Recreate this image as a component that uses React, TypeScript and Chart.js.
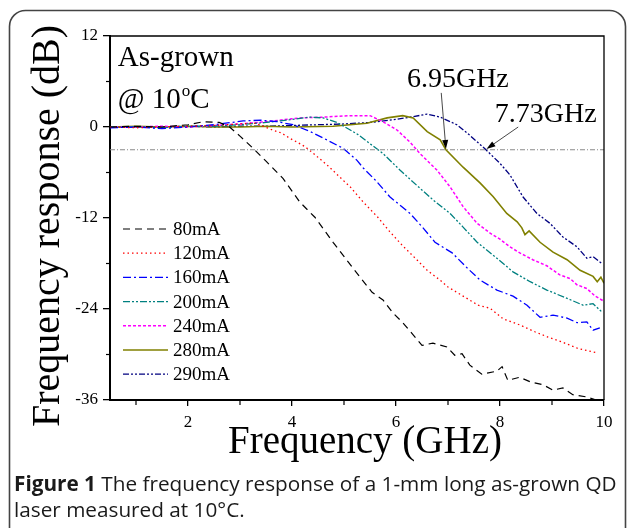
import React, { useEffect, useRef } from "react";
import { Chart, registerables } from "chart.js";

Chart.register(...registerables);

const W = 627;
const H = 528;
const SERIF = "'Liberation Serif', 'Times New Roman', serif";
const SANS = "'Open Sans', 'Noto Sans', sans-serif";

// ---- axis ticks ----
const xTickValues = [2, 4, 6, 8, 10];
const xMinorTicks = [1, 3, 5, 7, 9];
const yTickValues = [-36, -24, -12, 0, 12];
const yMinorTicks = [-30, -18, -6, 6];

// ---- series (frequency in GHz, response in dB) ----
const f80 = [0.5, 1.0, 1.5, 2.0, 2.3, 2.6, 2.8, 3.0, 3.25, 3.5, 3.83, 4.15, 4.44, 4.79, 5.17, 5.54, 5.75, 5.94, 6.13, 6.33, 6.5, 6.71, 6.98, 7.13, 7.27, 7.42, 7.65, 7.94, 8.04, 8.15, 8.38, 8.58, 8.83, 9.02, 9.21, 9.4, 9.67, 9.85];
const db80 = [0, 0.1, 0, 0.3, 0.7, 0.6, 0, -1.2, -2.8, -4.5, -6.8, -9.9, -11.9, -15.2, -18.6, -21.8, -22.8, -24.5, -25.8, -27.4, -28.8, -28.5, -29.0, -30.1, -29.9, -31.4, -32.6, -32.2, -31.6, -33.4, -33.0, -33.6, -34.0, -34.7, -34.4, -35.3, -35.6, -36];

const f120 = [0.5, 1.0, 1.5, 2.0, 2.5, 3.0, 3.3, 3.63, 3.8, 3.96, 4.1, 4.25, 4.38, 4.69, 4.98, 5.12, 5.37, 5.65, 5.88, 6.12, 6.37, 6.6, 6.85, 7.0, 7.29, 7.58, 7.81, 8.06, 8.38, 8.67, 8.92, 9.21, 9.5, 9.88];
const db120 = [0, -0.1, 0, 0.1, 0.2, 0.4, 0.5, -0.4, -0.8, -1.5, -2.0, -2.6, -3.3, -5.1, -7.0, -7.9, -9.9, -11.9, -13.8, -15.6, -17.3, -18.9, -20.2, -21.1, -22.3, -23.5, -23.9, -25.3, -26.1, -27.0, -27.7, -28.4, -29.2, -29.8];

const f160 = [0.5, 1.0, 1.5, 2.0, 2.5, 3.06, 3.4, 3.71, 4.02, 4.35, 4.67, 4.98, 5.25, 5.37, 5.63, 5.88, 6.27, 6.52, 6.75, 7.08, 7.37, 7.62, 7.94, 8.25, 8.52, 8.77, 9.02, 9.29, 9.48, 9.67, 9.79, 9.92];
const db160 = [-0.1, 0, -0.2, 0, 0.3, 0.8, 0.9, 0.7, 0.3, -0.6, -1.7, -2.8, -4.4, -5.4, -7.2, -9.2, -11.4, -13.3, -15.2, -16.6, -18.6, -20.2, -21.5, -22.3, -23.5, -25.1, -24.8, -25.2, -25.8, -25.7, -26.8, -26.5];

const f200 = [0.5, 1.0, 1.5, 2.0, 2.5, 3.0, 3.5, 4.0, 4.35, 4.6, 4.87, 5.12, 5.27, 5.5, 5.75, 6.08, 6.4, 6.71, 7.04, 7.29, 7.56, 7.94, 8.25, 8.58, 8.9, 9.29, 9.6, 9.79, 9.96];
const db200 = [0, 0, -0.1, 0.1, 0.1, 0.3, 0.6, 1.0, 1.3, 1.2, 0.6, -0.4, -1.0, -2.2, -3.5, -5.7, -7.7, -9.6, -11.4, -13.2, -15.2, -17.3, -19.1, -20.4, -21.5, -22.6, -23.5, -23.3, -24.4];

const f240 = [0.5, 1.0, 1.5, 2.0, 2.5, 3.0, 3.5, 4.15, 4.6, 5.12, 5.5, 5.75, 6.02, 6.27, 6.46, 6.79, 7.04, 7.29, 7.56, 7.81, 8.0, 8.19, 8.38, 8.63, 8.9, 9.15, 9.35, 9.48, 9.67, 9.83, 9.98];
const db240 = [0, 0, 0.1, 0, 0.2, 0.4, 0.7, 1.2, 1.3, 1.5, 1.5, 0.7, -0.4, -2.0, -3.5, -5.7, -7.9, -10.5, -12.7, -14.0, -14.8, -15.8, -16.6, -17.5, -18.3, -19.5, -20.0, -20.8, -21.3, -22.3, -22.9];

const f280 = [0.5, 1.0, 1.5, 2.0, 2.5, 3.0, 3.5, 4.0, 4.79, 5.44, 5.83, 6.13, 6.33, 6.6, 6.85, 6.96, 7.29, 7.62, 7.87, 8.13, 8.33, 8.42, 8.48, 8.56, 8.77, 9.02, 9.29, 9.54, 9.79, 9.87, 9.94, 10.0];
const db280 = [0, 0.1, 0, 0.1, 0, 0, 0.1, 0, 0.1, 0.5, 1.2, 1.5, 1.2, -0.6, -1.7, -3.0, -5.3, -7.4, -9.2, -11.4, -12.5, -13.3, -14.2, -13.7, -15.2, -16.5, -17.5, -18.9, -19.7, -20.4, -19.8, -20.6];

const f290 = [0.5, 1.0, 1.5, 2.0, 2.5, 3.0, 3.5, 4.0, 4.5, 5.0, 5.5, 6.0, 6.27, 6.6, 6.85, 7.17, 7.42, 7.73, 8.0, 8.19, 8.44, 8.71, 8.96, 9.21, 9.48, 9.67, 9.79, 9.96];
const db290 = [0, 0, 0, 0.1, 0, 0.1, 0.1, 0.2, 0.3, 0.4, 0.6, 1.0, 1.3, 1.7, 1.3, 0.3, -1.1, -3.0, -4.8, -6.3, -9.2, -11.4, -12.7, -14.5, -15.8, -17.3, -17.1, -18.0];

const seriesLabels = ["80mA", "120mA", "160mA", "200mA", "240mA", "280mA", "290mA"];
const seriesFreqs = [f80, f120, f160, f200, f240, f280, f290];
const seriesValues = [db80, db120, db160, db200, db240, db280, db290];
const seriesColors = ["#000000", "#ff0000", "#0000ff", "#008080", "#ff00ff", "#808000", "#000080"];
const seriesDashes = [[7, 5], [1.5, 3], [8, 3, 2, 3], [7, 2, 2, 2, 2, 2], [3, 2], [], [6, 2, 2, 2, 2, 2]];
const seriesWidths = [1.2, 1.3, 1.3, 1.3, 1.5, 1.6, 1.3];

// -3 dB reference level
const cutoffLevel = -3;
const cutoffRange = [0.5, 10];

// annotations (GHz, dB)
const markLabels = ["6.95GHz", "7.73GHz"];
const markLabelPos = [[6.21, 5.3], [7.9, 0.7]];
const markArrowFrom = [[6.87, 4.5], [8.35, 0.0]];
const markArrowTo = [[6.96, -2.9], [7.74, -2.9]];
const noteLine1 = "As-grown";
const noteLine2 = ["@ 10", "o", "C"];
const notePos = [0.65, 8.0];
const note2Level = 2.5;

const captionBold = "Figure 1";
const captionRest1 = " The frequency response of a 1-mm long as-grown QD";
const captionLine2 = "laser measured at 10°C.";

function arrow(ctx: CanvasRenderingContext2D, x1: number, y1: number, x2: number, y2: number) {
  const ang = Math.atan2(y2 - y1, x2 - x1);
  const L = 9, Wd = 3;
  ctx.beginPath();
  ctx.moveTo(x1, y1);
  ctx.lineTo(x2 - Math.cos(ang) * L * 0.8, y2 - Math.sin(ang) * L * 0.8);
  ctx.stroke();
  ctx.beginPath();
  ctx.moveTo(x2, y2);
  ctx.lineTo(x2 - Math.cos(ang) * L - Math.sin(ang) * Wd, y2 - Math.sin(ang) * L + Math.cos(ang) * Wd);
  ctx.lineTo(x2 - Math.cos(ang) * L + Math.sin(ang) * Wd, y2 - Math.sin(ang) * L - Math.cos(ang) * Wd);
  ctx.closePath();
  ctx.fill();
}

const decor = {
  id: "decor",
  beforeDraw(chart: any) {
    const { ctx } = chart;
    ctx.save();
    ctx.fillStyle = "#fff";
    ctx.fillRect(0, 0, W, H);
    ctx.restore();
  },
  afterDraw(chart: any) {
    const { ctx, chartArea: a } = chart;
    const xs = chart.scales.x;
    const ys = chart.scales.y;
    const px = (v: number) => xs.getPixelForValue(v);
    const py = (v: number) => ys.getPixelForValue(v);
    ctx.save();
    // plot frame top/right
    ctx.strokeStyle = "#000";
    ctx.lineWidth = 1.3;
    ctx.setLineDash([]);
    ctx.beginPath();
    ctx.moveTo(a.left, a.top);
    ctx.lineTo(a.right, a.top);
    ctx.lineTo(a.right, a.bottom);
    ctx.stroke();
    // minor ticks
    ctx.lineWidth = 1.2;
    for (const v of xMinorTicks) {
      ctx.beginPath();
      ctx.moveTo(px(v), a.bottom);
      ctx.lineTo(px(v), a.bottom + 5);
      ctx.stroke();
    }
    for (const v of yMinorTicks) {
      ctx.beginPath();
      ctx.moveTo(a.left, py(v));
      ctx.lineTo(a.left - 4, py(v));
      ctx.stroke();
    }

    // axis titles
    ctx.fillStyle = "#000";
    ctx.font = `40px ${SERIF}`;
    ctx.textAlign = "center";
    ctx.textBaseline = "alphabetic";
    ctx.save();
    ctx.translate(59, 226);
    ctx.rotate(-Math.PI / 2);
    ctx.fillText("Frequency response (dB)", 0, 0);
    ctx.restore();
    ctx.font = `39px ${SERIF}`;
    ctx.fillText("Frequency (GHz)", 365, 453);

    // notes
    ctx.textAlign = "left";
    ctx.font = `29px ${SERIF}`;
    ctx.fillText(noteLine1, px(notePos[0]), py(notePos[1]));
    let nx = px(notePos[0]);
    const ny = py(note2Level);
    ctx.fillText(noteLine2[0], nx, ny);
    nx += ctx.measureText(noteLine2[0]).width + 1;
    ctx.font = `17px ${SERIF}`;
    ctx.fillText(noteLine2[1], nx, ny - 12);
    nx += ctx.measureText(noteLine2[1]).width;
    ctx.font = `29px ${SERIF}`;
    ctx.fillText(noteLine2[2], nx, ny);

    // marker labels + arrows
    ctx.font = `28px ${SERIF}`;
    markLabels.forEach((t, i) => {
      ctx.fillText(t, px(markLabelPos[i][0]), py(markLabelPos[i][1]));
    });
    ctx.strokeStyle = "#333";
    ctx.fillStyle = "#000";
    ctx.lineWidth = 0.9;
    markArrowFrom.forEach((p, i) => {
      arrow(ctx, px(p[0]), py(p[1]), px(markArrowTo[i][0]), py(markArrowTo[i][1]));
    });

    // legend
    const lx1 = a.left + 13, lx2 = a.left + 58, tx = a.left + 63;
    const top = a.top + 193, gap = 24.2;
    ctx.font = `19px ${SERIF}`;
    ctx.textBaseline = "middle";
    seriesLabels.forEach((lab, i) => {
      const yy = top + i * gap;
      ctx.strokeStyle = seriesColors[i];
      ctx.lineWidth = seriesWidths[i];
      ctx.setLineDash(seriesDashes[i]);
      ctx.beginPath();
      ctx.moveTo(lx1, yy);
      ctx.lineTo(lx2, yy);
      ctx.stroke();
      ctx.setLineDash([]);
      ctx.fillStyle = "#000";
      ctx.fillText(lab, tx, yy + 1);
    });

    // outer rounded frame
    ctx.strokeStyle = "#444";
    ctx.lineWidth = 1.6;
    const r = 16, L0 = 9.5, T0 = 10.5, R0 = 625.5;
    ctx.beginPath();
    ctx.moveTo(L0, H + 10);
    ctx.lineTo(L0, T0 + r);
    ctx.arcTo(L0, T0, L0 + r, T0, r);
    ctx.lineTo(R0 - r, T0);
    ctx.arcTo(R0, T0, R0, T0 + r, r);
    ctx.lineTo(R0, H + 10);
    ctx.stroke();

    // caption (font size fitted to the line width)
    ctx.textBaseline = "alphabetic";
    ctx.fillStyle = "#1a1a1a";
    const base = 17;
    ctx.font = `bold ${base}px ${SANS}`;
    const wb = ctx.measureText(captionBold).width;
    ctx.font = `${base}px ${SANS}`;
    const wr = ctx.measureText(captionRest1).width;
    const fs = (base * 603) / (wb + wr);
    ctx.font = `bold ${fs}px ${SANS}`;
    ctx.fillText(captionBold, 14, 491);
    const wb2 = ctx.measureText(captionBold).width;
    ctx.font = `${fs}px ${SANS}`;
    ctx.fillText(captionRest1, 14 + wb2, 491);
    ctx.fillText(captionLine2, 14, 517);
    ctx.restore();
  },
};

export default function App() {
  const ref = useRef<HTMLCanvasElement | null>(null);
  useEffect(() => {
    document.body.style.margin = "0";
    const canvas = ref.current;
    if (!canvas) return;
    const datasets: any[] = seriesLabels.map((lab, i) => ({
      label: lab,
      data: seriesFreqs[i].map((f, j) => ({ x: f, y: seriesValues[i][j] })),
      borderColor: seriesColors[i],
      borderDash: seriesDashes[i],
      borderWidth: seriesWidths[i],
      pointRadius: 0,
      fill: false,
      tension: 0,
    }));
    datasets.unshift({
      label: "-3 dB",
      data: cutoffRange.map((f) => ({ x: f, y: cutoffLevel })),
      borderColor: "#8a8a8a",
      borderDash: [5, 2, 1, 2],
      borderWidth: 1,
      pointRadius: 0,
      fill: false,
    });
    const tickFont = { family: SERIF, size: 17 };
    const chart = new Chart(canvas, {
      type: "line",
      data: { datasets },
      plugins: [decor],
      options: {
        animation: false,
        responsive: false,
        devicePixelRatio: 1,
        layout: { padding: { left: 0, right: 23, top: 36, bottom: 0 } },
        plugins: { legend: { display: false }, tooltip: { enabled: false }, title: { display: false } },
        scales: {
          x: {
            type: "linear",
            min: 0.5,
            max: 10,
            afterBuildTicks: (s: any) => {
              s.ticks = xTickValues.map((v) => ({ value: v }));
            },
            afterFit: (s: any) => {
              s.height = 128;
            },
            ticks: { font: tickFont, color: "#000", padding: 6, maxRotation: 0, autoSkip: false },
            grid: { drawOnChartArea: false, drawTicks: true, tickLength: 6, color: "#000", lineWidth: 1.3 },
            border: { display: true, color: "#000", width: 2 },
          },
          y: {
            type: "linear",
            min: -36,
            max: 12,
            afterBuildTicks: (s: any) => {
              s.ticks = yTickValues.map((v) => ({ value: v }));
            },
            afterFit: (s: any) => {
              s.width = 110;
            },
            ticks: { font: tickFont, color: "#000", padding: 5, autoSkip: false },
            grid: { drawOnChartArea: false, drawTicks: true, tickLength: 7, color: "#000", lineWidth: 1.3 },
            border: { display: true, color: "#000", width: 2 },
          },
        },
      } as any,
    });
    return () => chart.destroy();
  }, []);
  return (
    <div style={{ width: W, height: H, position: "relative", overflow: "hidden" }}>
      <canvas ref={ref} width={W} height={H} style={{ display: "block" }} />
    </div>
  );
}
